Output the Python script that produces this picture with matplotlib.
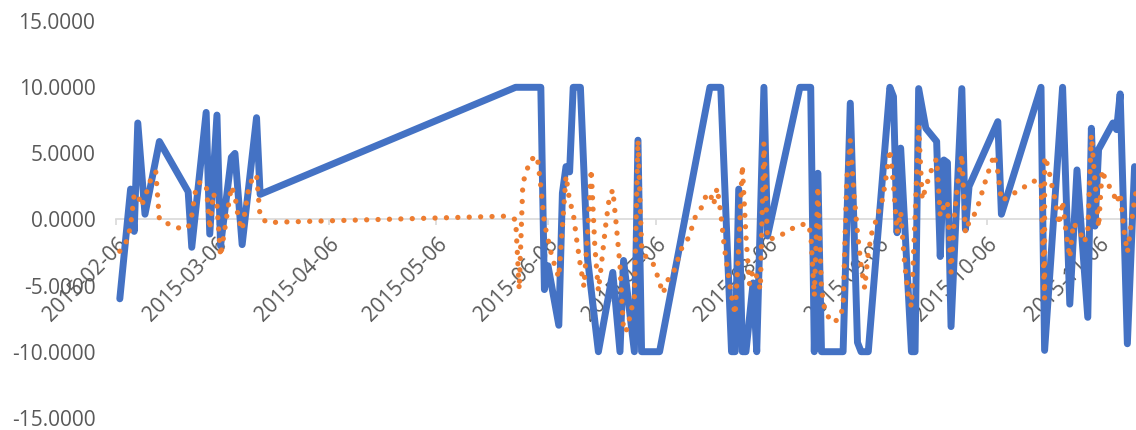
import matplotlib
matplotlib.use("Agg")
import matplotlib.pyplot as plt
import matplotlib.dates as mdates
import numpy as np

# ---------------- data ----------------
start_date = "2015-02-06"

blue_days = [1, 4, 5, 6, 8, 12, 20, 21, 25, 26, 28, 29, 32, 33, 35, 39, 40,
             111, 118, 119, 120, 123, 124, 125, 126, 127, 129, 131, 134, 138,
             140, 141, 144, 145, 146, 151, 165, 168, 171, 172, 173, 174, 175,
             177, 178, 180, 181, 190, 193, 194, 195, 196, 202, 204, 206, 207,
             209, 215, 216, 217, 218, 221, 222, 223, 225, 228, 229, 230, 231,
             232, 235, 236, 237, 245, 246, 257, 258, 263, 265, 267, 270, 271,
             272, 273, 277, 278, 279, 281, 283]
blue_values = [-6.0, 2.3, -0.9, 7.3, 0.4, 5.9, 2.1, -2.1, 8.1, -1.1, 7.9, -2.0,
               4.7, 5.0, -1.9, 7.7, 1.9,
               10.0, 10.0, -5.3, -3.5, -8.0, 2.0, 4.0, 3.6, 10.0, 10.0, -3.0,
               -10.0, -4.0, -10.0, -3.1, -10.0, 6.0, -10.0, -10.0, 10.0, 10.0,
               -10.0, -10.0, 2.3, -10.0, -10.0, -4.8, -10.0, 10.0, -1.25, 10.0,
               10.0, -10.0, 3.5, -10.0, -10.0, 8.8, -9.3, -10.0, -10.0, 10.0,
               9.3, -1.0, 5.4, -10.0, -10.0, 9.9, 6.9, 5.9, -2.8, 4.5, 4.3,
               -8.1, 9.9, -0.75, 2.5, 7.4, 0.4, 10.0, -9.9, 10.0, -6.4, 3.75,
               -7.4, 6.9, -0.5, 5.3, 7.3, 6.8, 9.5, -9.4, 4.0]

orange_days = [1, 3, 4, 5, 6, 7, 8, 9, 10, 11, 12, 15, 18, 20, 21, 22, 23, 25,
               26, 27, 28, 29, 30, 31, 32, 33, 34, 35, 36, 37, 39, 40, 42, 45,
               108, 111, 112, 113, 114, 115, 117, 118, 119, 120, 121, 122, 123,
               124, 125, 126, 127, 128, 129, 130, 131, 132, 133, 134, 135, 136,
               137, 138, 139, 140, 141, 142, 143, 144, 145, 146, 147, 149, 150,
               151, 152, 153, 155, 156, 157, 159, 160, 161, 163, 164, 165, 166,
               167, 168, 169, 170, 171, 172, 173, 174, 175, 176, 177, 178, 179,
               180, 181, 183, 186, 189, 192, 193, 194, 195, 196, 197, 199, 201,
               202, 203, 204, 205, 206, 207, 208, 209, 210, 211, 212, 213, 214,
               215, 216, 217, 218, 219, 220, 221, 223, 224, 225, 226, 227, 228,
               229, 230, 231, 232, 233, 234, 235, 236, 237, 239, 240, 241, 242,
               243, 244, 245, 246, 249, 252, 255, 257, 258, 258, 259, 260, 261,
               262, 263, 264, 265, 266, 268, 269, 270, 271, 273, 274, 275, 277,
               278, 279, 280, 281, 282, 283, 284]
orange_values = [-2.4, -1.6, -0.5, 1.9, 1.9, 1.0, 1.7, 2.5, 3.4, 3.6, 0.0, -0.4,
                 -0.7, -0.6, 0.3, 2.1, 2.8, 2.7, -0.75, 2.0, 1.1, -2.8, -1.05,
                 0.7, 2.5, 1.8, 0.0, -0.8, 0.95, 2.7, 3.4, 0.2, -0.25, -0.2,
                 0.25, 0.0, -5.3, 2.75, 3.6, 4.5, 4.8, 2.5, -0.3, -1.5, -2.7,
                 -3.6, -4.4, -0.5, 3.3, 1.4, 0.5, -1.6, -3.5, -5.1, -1.0, 3.8,
                 -2.0, -5.4, -3.0, -0.5, 1.6, 2.25, -0.5, -3.5, -8.5, -8.3,
                 -7.0, -5.9, 6.0, -2.0, -2.75, -3.2, -3.9, -4.8, -5.6, -4.7,
                 -3.9, -3.1, -2.25, -1.4, -0.6, 0.25, 1.05, 1.9, 2.0, 1.1, 2.4,
                 0.5, -2.1, -4.0, -5.8, -7.2, -2.0, 4.1, -1.25, -4.9, -3.8,
                 -4.3, -5.3, 5.8, -1.5, -1.4, -1.0, -0.5, -0.3, -1.0, -5.8, 2.5,
                 -5.3, -7.0, -7.8, -7.5, -6.6, 3.0, 6.0, 2.0, -1.0, -3.5, -5.2,
                 -2.5, -1.0, -0.2, 0.7, 1.55, 3.3, 5.3, 2.65, -1.0, 0.6, -3.0,
                 -5.6, -6.6, 7.0, 1.5, 2.45, 3.3, 4.1, 4.6, 0.25, 1.0, 1.4,
                 -4.0, 0.5, 3.1, 4.9, -1.0, -0.2, 0.6, 1.5, 2.4, 3.3, 4.1, 4.9,
                 3.6, 1.4, 1.9, 2.4, 2.9, 2.9, -6.0, 4.75, 4.0, 2.6, 1.4, -0.4,
                 1.4, -1.1, -2.9, -0.25, -1.05, -1.75, -0.9, 6.4, -0.6, 3.75,
                 2.9, 2.1, 1.25, 2.0, -0.7, -2.5, -0.5, 1.5, 2.9]

tick_labels = ["2015-02-06", "2015-03-06", "2015-04-06", "2015-05-06",
               "2015-06-06", "2015-07-06", "2015-08-06", "2015-09-06",
               "2015-10-06", "2015-11-06"]
y_ticks = [-15, -10, -5, 0, 5, 10, 15]

# ---------------- figure ----------------
plt.rcParams["font.family"] = ["Open Sans", "DejaVu Sans"]

W, H = 1136, 430
fig = plt.figure(figsize=(W / 100, H / 100), dpi=100)
ax = fig.add_axes([116.2 / W, 12.2 / H, (W - 116.2) / W, 396.6 / H])

start = np.datetime64(start_date)
blue_x = start + np.array(blue_days).astype("timedelta64[D]")
orange_x = start + np.array(orange_days).astype("timedelta64[D]")

ax.plot(blue_x, blue_values, color="#4472C4", lw=5,
        solid_joinstyle="round", solid_capstyle="round", zorder=3)
ax.plot(orange_x, orange_values, color="#ED7D31", lw=3.8,
        linestyle=(0, (0.01, 2.15)), dash_capstyle="round",
        dash_joinstyle="round", zorder=4)

x0 = mdates.date2num(start)
ax.set_xlim(x0, x0 + 283.4)
ax.set_ylim(-15, 15)

ax.set_yticks(y_ticks)
ax.set_yticklabels([f"{v:.4f}" for v in y_ticks])
ax.set_xticks([np.datetime64(t) for t in tick_labels])
ax.set_xticklabels(tick_labels)

for s in ["top", "right", "left"]:
    ax.spines[s].set_visible(False)
ax.spines["bottom"].set_position(("data", 0))
ax.spines["bottom"].set_color("#D9D9D9")
ax.spines["bottom"].set_linewidth(1.2)
ax.spines["bottom"].set_zorder(1)

ax.tick_params(axis="y", length=0, pad=15, labelsize=15, labelcolor="#595959")
ax.tick_params(axis="x", direction="out", length=4, width=1.2,
               color="#D9D9D9", pad=6.5, labelsize=15, labelcolor="#595959",
               labelrotation=45)
for lab in ax.get_xticklabels():
    lab.set_horizontalalignment("right")
    lab.set_verticalalignment("top")
    lab.set_rotation_mode("anchor")
ax.patch.set_alpha(0)

fig.savefig("out.png", dpi=100)
